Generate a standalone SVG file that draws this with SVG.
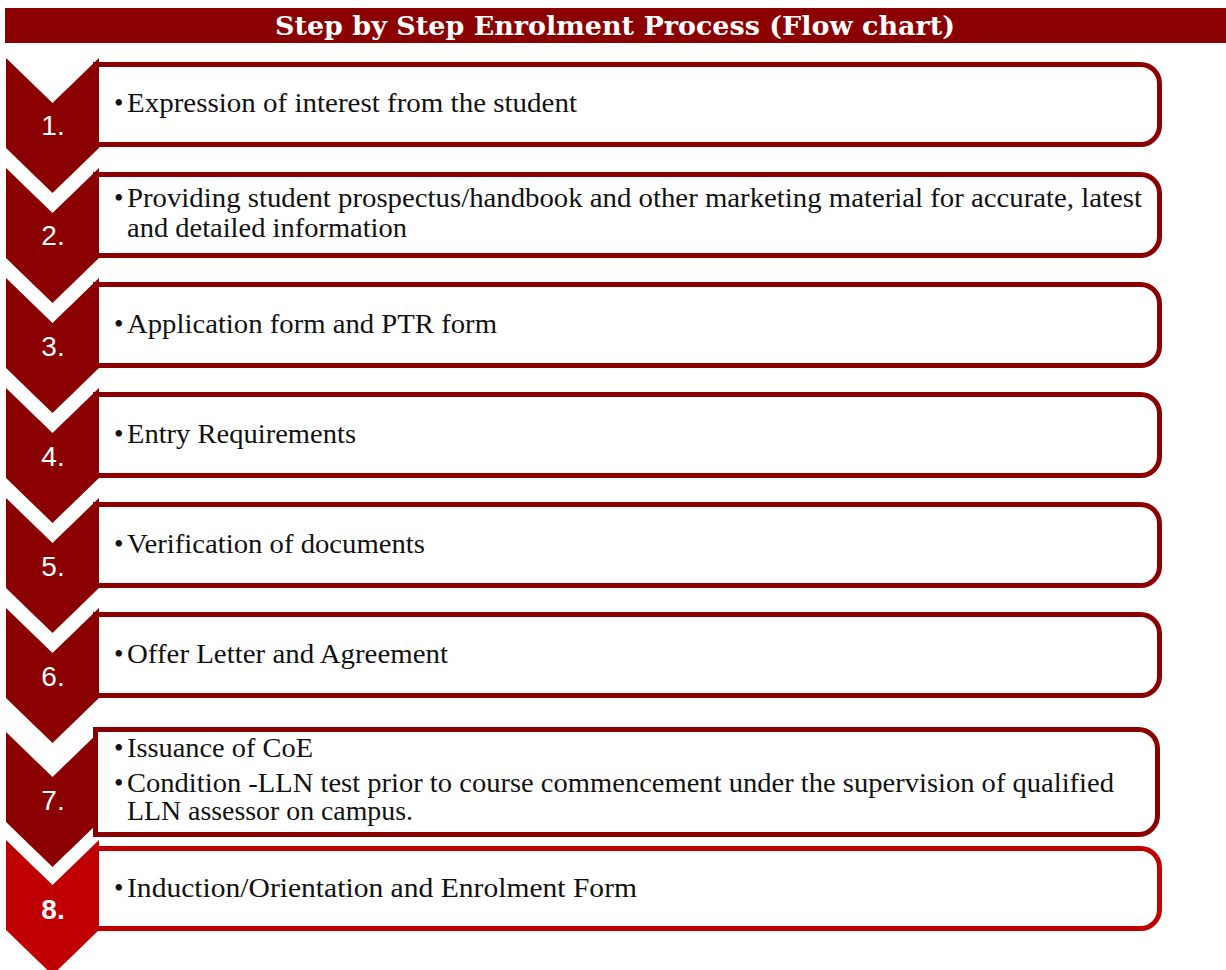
<svg xmlns="http://www.w3.org/2000/svg" width="1226" height="970" viewBox="0 0 1226 970">
<style>
.title{font-family:"DejaVu Serif","Liberation Serif",serif;font-weight:bold;font-size:26px;fill:#ffffff}
.chev{fill:#8B0000}
.chev8{fill:#C00000}
.box{fill:#ffffff;stroke:#8B0000;stroke-width:5}
.box8{fill:#ffffff;stroke:#C00000;stroke-width:5}
.num{font-family:"Liberation Sans",Arial,sans-serif;font-size:28px;fill:#ffffff;text-anchor:middle}
.txt{font-family:"Liberation Serif","Times New Roman",serif;font-size:27px;fill:#111111}
</style>
<rect x="5" y="8" width="1221" height="35" fill="#8B0000"/>
<text class="title" x="615" y="35" text-anchor="middle" textLength="680" lengthAdjust="spacingAndGlyphs">Step by Step Enrolment Process (Flow chart)</text>
<g id="connectors"></g>
<g id="step1">
<path class="box" d="M95.5,64.5 H1140.5 A19,19 0 0 1 1159.5,83.5 V125.5 A19,19 0 0 1 1140.5,144.5 H95.5 Z"/>
<polygon class="chev" points="6,58 52.5,103 99,58 99,148 52.5,193 6,148"/>
<text class="num" x="53" y="135">1.</text>
<text class="txt" x="114" y="112">•</text>
<text class="txt" x="127" y="112" textLength="450" lengthAdjust="spacingAndGlyphs">Expression of interest from the student</text>
</g>
<g id="step2">
<path class="box" d="M95.5,174.5 H1140.5 A19,19 0 0 1 1159.5,193.5 V236.5 A19,19 0 0 1 1140.5,255.5 H95.5 Z"/>
<polygon class="chev" points="6,168 52.5,213 99,168 99,258 52.5,303 6,258"/>
<text class="num" x="53" y="245">2.</text>
<text class="txt" x="114" y="207">•</text>
<text class="txt" x="127" y="207" textLength="1015" lengthAdjust="spacingAndGlyphs">Providing student prospectus/handbook and other marketing material for accurate, latest</text>
<text class="txt" x="127" y="237" textLength="280" lengthAdjust="spacingAndGlyphs">and detailed information</text>
</g>
<g id="step3">
<path class="box" d="M95.5,284.5 H1140.5 A19,19 0 0 1 1159.5,303.5 V346.5 A19,19 0 0 1 1140.5,365.5 H95.5 Z"/>
<polygon class="chev" points="6,278 52.5,323 99,278 99,368 52.5,413 6,368"/>
<text class="num" x="53" y="356">3.</text>
<text class="txt" x="114" y="333">•</text>
<text class="txt" x="127" y="333" textLength="370" lengthAdjust="spacingAndGlyphs">Application form and PTR form</text>
</g>
<g id="step4">
<path class="box" d="M95.5,394.5 H1140.5 A19,19 0 0 1 1159.5,413.5 V456.5 A19,19 0 0 1 1140.5,475.5 H95.5 Z"/>
<polygon class="chev" points="6,388 52.5,433 99,388 99,478 52.5,523 6,478"/>
<text class="num" x="53" y="466">4.</text>
<text class="txt" x="114" y="443">•</text>
<text class="txt" x="127" y="443" textLength="229" lengthAdjust="spacingAndGlyphs">Entry Requirements</text>
</g>
<g id="step5">
<path class="box" d="M95.5,504.5 H1140.5 A19,19 0 0 1 1159.5,523.5 V566.5 A19,19 0 0 1 1140.5,585.5 H95.5 Z"/>
<polygon class="chev" points="6,498 52.5,543 99,498 99,588 52.5,633 6,588"/>
<text class="num" x="53" y="576">5.</text>
<text class="txt" x="114" y="553">•</text>
<text class="txt" x="127" y="553" textLength="298" lengthAdjust="spacingAndGlyphs">Verification of documents</text>
</g>
<g id="step6">
<path class="box" d="M95.5,614.5 H1140.5 A19,19 0 0 1 1159.5,633.5 V676.5 A19,19 0 0 1 1140.5,695.5 H95.5 Z"/>
<polygon class="chev" points="6,608 52.5,653 99,608 99,698 52.5,743 6,698"/>
<text class="num" x="53" y="686">6.</text>
<text class="txt" x="114" y="663">•</text>
<text class="txt" x="127" y="663" textLength="321" lengthAdjust="spacingAndGlyphs">Offer Letter and Agreement</text>
</g>
<g id="step7">
<polygon class="chev" points="6,732 52.5,777 99,732 99,822 52.5,867 6,822"/>
<path class="box" d="M95.5,729.5 H1138.5 A19,19 0 0 1 1157.5,748.5 V815.5 A19,19 0 0 1 1138.5,834.5 H95.5 Z"/>
<text class="num" x="53" y="810">7.</text>
<text class="txt" x="114" y="757">•</text>
<text class="txt" x="127" y="757" textLength="186" lengthAdjust="spacingAndGlyphs">Issuance of CoE</text>
<text class="txt" x="114" y="792">•</text>
<text class="txt" x="127" y="792" textLength="987" lengthAdjust="spacingAndGlyphs">Condition -LLN test prior to course commencement under the supervision of qualified</text>
<text class="txt" x="127" y="820" textLength="286" lengthAdjust="spacingAndGlyphs">LLN assessor on campus.</text>
</g>
<g id="step8">
<path class="box8" d="M95.5,848.5 H1140.5 A19,19 0 0 1 1159.5,867.5 V909.5 A19,19 0 0 1 1140.5,928.5 H95.5 Z"/>
<polygon class="chev8" points="6,840 52.5,885 99,840 99,930 52.5,975 6,930"/>
<text class="num" x="53" y="919" font-weight="bold">8.</text>
<text class="txt" x="114" y="897">•</text>
<text class="txt" x="127" y="897" textLength="510" lengthAdjust="spacingAndGlyphs">Induction/Orientation and Enrolment Form</text>
</g>
</svg>
